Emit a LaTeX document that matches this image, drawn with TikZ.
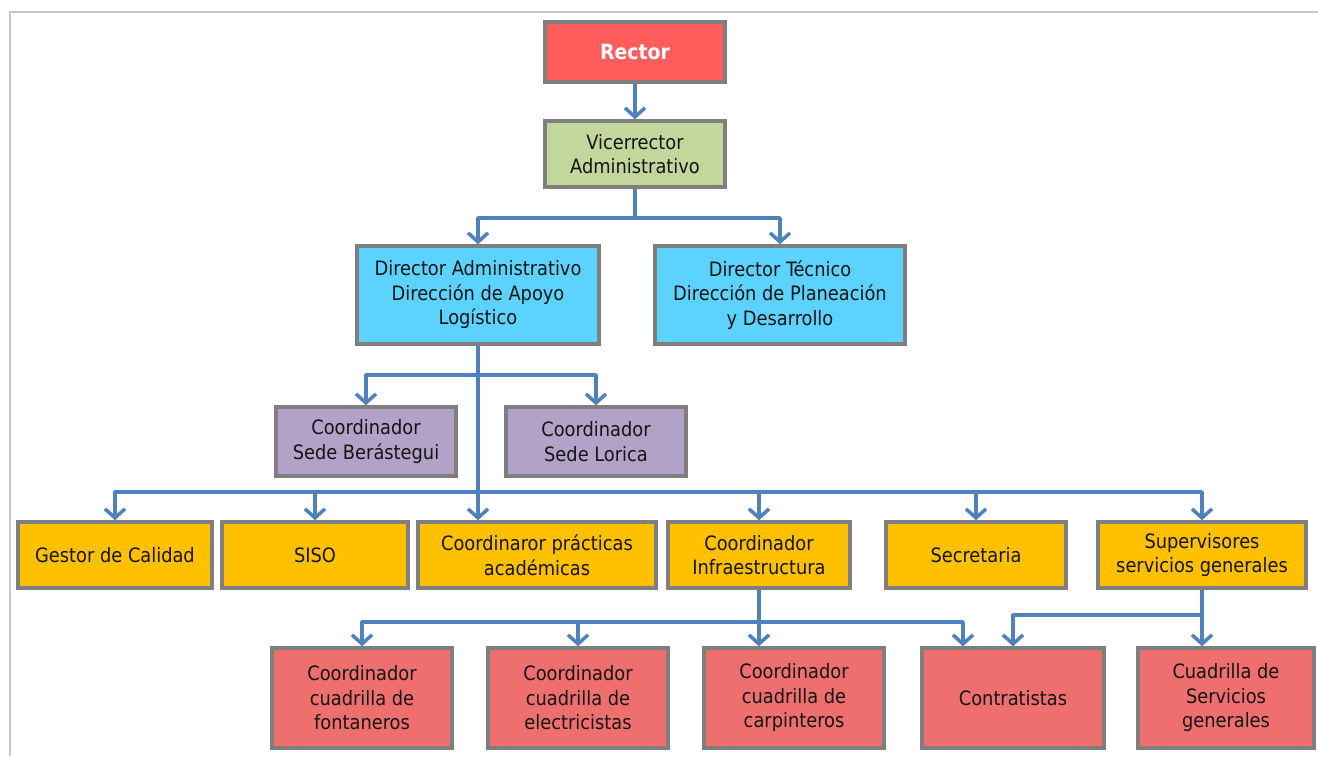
\documentclass[tikz,border=0pt]{standalone}
\usepackage{fontspec}
\setmainfont{DejaVu Sans Condensed}
\usetikzlibrary{arrows.meta}
\definecolor{boxborder}{HTML}{7F7F7F}
\definecolor{linkblue}{HTML}{4F81BD}
\definecolor{rectorred}{HTML}{FF5C5C}
\definecolor{vicegreen}{HTML}{C3D69B}
\definecolor{dirblue}{HTML}{5CD3FF}
\definecolor{coordpurple}{HTML}{B3A2C7}
\definecolor{unityellow}{HTML}{FFC000}
\definecolor{crewred}{HTML}{EF6F6F}
\definecolor{framegray}{HTML}{C8C8C8}
\begin{document}
\begin{tikzpicture}[x=1pt,y=-1pt,
  box/.style={draw=boxborder, line width=3.5pt, align=center, inner sep=1pt,
    font=\fontsize{19.8}{24.5}\selectfont, text=black!92},
  conn/.style={draw=linkblue, line width=3.5pt, line join=round,
    -{Straight Barb[length=9pt,width=20pt]}},
  rectorbox/.style={box, fill=rectorred, text=white, font=\fontsize{21}{24}\selectfont\bfseries},
  vicebox/.style={box, fill=vicegreen},
  dirbox/.style={box, fill=dirblue},
  coordbox/.style={box, fill=coordpurple},
  unitbox/.style={box, fill=unityellow},
  crewbox/.style={box, fill=crewred}]
\useasboundingbox (0,0) rectangle (1318,756);
\fill[white] (0,0) rectangle (1318,756);
\draw[framegray, line width=1.5pt] (10,756) -- (10,12) -- (1318,12);

% nodes
\node[rectorbox, minimum width=180pt, minimum height=60pt] (rector) at (635,52) {Rector};
\node[vicebox, minimum width=180pt, minimum height=66pt] (vice) at (635,154) {Vicerrector\\Administrativo};
\node[dirbox, minimum width=242pt, minimum height=98pt] (dadm) at (478,295) {Director Administrativo\\Dirección de Apoyo\\Logístico};
\node[dirbox, minimum width=250pt, minimum height=98pt] (dtec) at (780,295) {Director Técnico\\Dirección de Planeación\\y Desarrollo};
\node[coordbox, minimum width=180pt, minimum height=69pt] (cber) at (366,441.5) {Coordinador\\Sede Berástegui};
\node[coordbox, minimum width=180pt, minimum height=69pt] (clor) at (596,441.5) {Coordinador\\Sede Lorica};

\node[unitbox, minimum width=194pt, minimum height=66pt] (gestor) at (115,555) {Gestor de Calidad};
\node[unitbox, minimum width=186pt, minimum height=66pt] (siso) at (315,555) {SISO};
\node[unitbox, minimum width=238pt, minimum height=66pt] (cprac) at (537,555) {Coordinaror prácticas\\académicas};
\node[unitbox, minimum width=182pt, minimum height=66pt] (cinf) at (759,555) {Coordinador\\Infraestructura};
\node[unitbox, minimum width=180pt, minimum height=66pt] (secr) at (976,555) {Secretaria};
\node[unitbox, minimum width=208pt, minimum height=66pt] (superv) at (1202,555) {Supervisores\\servicios generales};

\node[crewbox, minimum width=180pt, minimum height=100pt] (fon) at (362,698) {Coordinador\\cuadrilla de\\fontaneros};
\node[crewbox, minimum width=180pt, minimum height=100pt] (ele) at (578,698) {Coordinador\\cuadrilla de\\electricistas};
\node[crewbox, minimum width=180pt, minimum height=100pt] (car) at (794,698) {Coordinador\\cuadrilla de\\carpinteros};
\node[crewbox, minimum width=182pt, minimum height=100pt] (contr) at (1013,698) {Contratistas};
\node[crewbox, minimum width=176pt, minimum height=100pt] (cuad) at (1226,698) {Cuadrilla de\\Servicios\\generales};

% bus levels
\coordinate (y1) at (0,218);
\coordinate (y2) at (0,375);
\coordinate (y3) at (0,492);
\coordinate (y4) at (0,622);
\coordinate (y5) at (0,615);
\coordinate (xc) at (963,0);

% connectors
\draw[conn] (rector) -- (vice);
\draw[conn] (vice.south) -- (vice.south |- y1) -| (dadm.north);
\draw[conn] (vice.south) -- (vice.south |- y1) -| (dtec.north);

\draw[conn] (dadm.south) -- (dadm.south |- cprac.north);
\draw[conn] (dadm.south |- y2) -| (cber.north);
\draw[conn] (dadm.south |- y2) -| (clor.north);

\draw[conn] (dadm.south |- y3) -| (gestor.north);
\draw[conn] (dadm.south |- y3) -| (siso.north);
\draw[conn] (dadm.south |- y3) -| (cinf.north);
\draw[conn] (dadm.south |- y3) -| (secr.north);
\draw[conn] (dadm.south |- y3) -| (superv.north);

\draw[conn] (cinf.south) -- (cinf.south |- y4) -| (fon.north);
\draw[conn] (cinf.south) -- (cinf.south |- y4) -| (ele.north);
\draw[conn] (cinf.south) -- (cinf.south |- car.north);
\draw[conn] (cinf.south |- y4) -| (xc |- contr.north);

\draw[conn] (superv.south) -- (superv.south |- cuad.north);
\draw[conn] (superv.south |- y5) -| (contr.north);
\end{tikzpicture}
\end{document}
